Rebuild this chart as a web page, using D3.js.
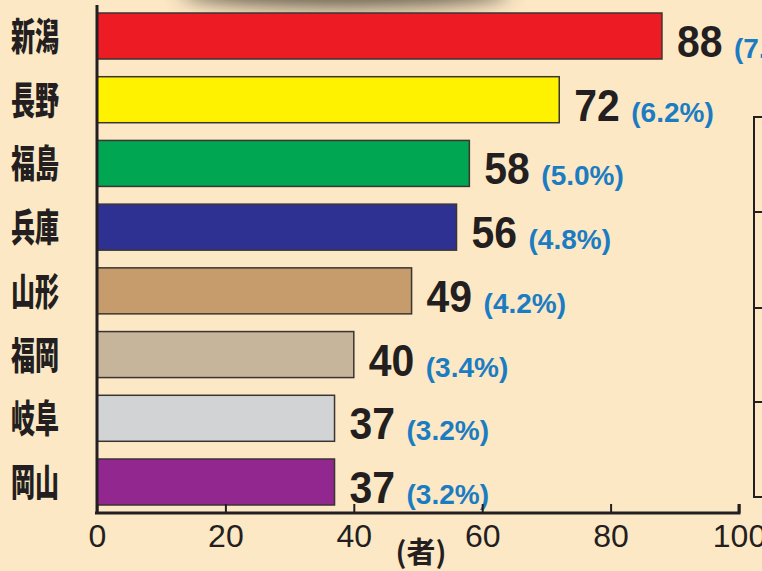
<!DOCTYPE html>
<html>
<head>
<meta charset="utf-8">
<script src="https://d3js.org/d3.v7.min.js"></script>
<style>
  body { margin: 0; background: #fde8c6; }
  svg { display: block; }
</style>
</head>
<body>
<svg width="762" height="571"></svg>
<script>
// data
let prefs = ["新潟", "長野", "福島", "兵庫", "山形", "福岡", "岐阜", "岡山"];
let counts = [88, 72, 58, 56, 49, 40, 37, 37];
let shares = ["7.6%", "6.2%", "5.0%", "4.8%", "4.2%", "3.4%", "3.2%", "3.2%"];
let barColors = ["#ed1c24", "#fff200", "#00a651", "#2e3192", "#c69c6d", "#c7b59b", "#d1d3d4", "#92278f"];
let ticks = [0, 20, 40, 60, 80, 100];
let unitLabel = "(者)";

let svg = d3.select("svg");

// background
svg.append("rect").attr("width", 762).attr("height", 571).attr("fill", "#fde8c6");

// shadow blob at the top (from the photo above)
let defs = svg.append("defs");
defs.append("filter").attr("id", "blur")
  .attr("x", "-50%").attr("y", "-100%").attr("width", "200%").attr("height", "300%")
  .append("feGaussianBlur").attr("stdDeviation", 10);
svg.append("ellipse")
  .attr("cx", 345).attr("cy", -8).attr("rx", 165).attr("ry", 15)
  .attr("fill", "#3a342a").attr("opacity", 0.8)
  .attr("filter", "url(#blur)");

let x = d3.scaleLinear().domain([0, 100]).range([97, 739]);
let y = d3.scaleBand().domain(prefs).range([13, 505]).paddingInner(0.278).paddingOuter(0);

// partial panel at the right edge
let panel = svg.append("g").attr("stroke", "#231f20").attr("stroke-width", 2).attr("fill", "none");
panel.append("rect").attr("x", 754).attr("y", 117).attr("width", 30).attr("height", 380);
[212, 308, 402].forEach(d => {
  panel.append("line").attr("x1", 754).attr("x2", 762).attr("y1", d).attr("y2", d);
});

// bars
svg.selectAll("rect.bar")
  .data(prefs)
  .join("rect")
  .attr("class", "bar")
  .attr("x", x(0))
  .attr("y", d => y(d))
  .attr("width", (d, i) => x(counts[i]) - x(0))
  .attr("height", y.bandwidth())
  .attr("fill", (d, i) => barColors[i])
  .attr("stroke", "#3a3532")
  .attr("stroke-width", 1.5);

// category labels
svg.selectAll("text.cat")
  .data(prefs)
  .join("text")
  .attr("class", "cat")
  .attr("x", 11)
  .attr("y", d => y(d) + y.bandwidth() / 2 + 14)
  .attr("textLength", 48)
  .attr("lengthAdjust", "spacingAndGlyphs")
  .style("font-family", "'Noto Sans CJK JP', sans-serif")
  .style("font-weight", "900")
  .style("font-size", "38px")
  .style("fill", "#231f20")
  .text(d => d);

// value labels
let vals = svg.selectAll("g.val")
  .data(prefs)
  .join("g")
  .attr("class", "val")
  .attr("transform", (d, i) => `translate(${x(counts[i]) + 15},${y(d) + y.bandwidth() / 2 + 21})`);

vals.append("text")
  .attr("transform", "scale(0.93,1)")
  .style("font-family", "'Liberation Sans', Arial, sans-serif")
  .style("font-weight", "bold")
  .style("font-size", "44px")
  .style("fill", "#231f20")
  .text((d, i) => counts[i]);

vals.append("text")
  .attr("x", 57)
  .attr("y", 1)
  .style("font-family", "'Liberation Sans', Arial, sans-serif")
  .style("font-weight", "bold")
  .style("font-size", "28px")
  .style("fill", "#1b7cc2")
  .text((d, i) => "(" + shares[i] + ")");

// axes
svg.append("line")
  .attr("x1", x(0)).attr("x2", x(0)).attr("y1", 5).attr("y2", 514)
  .attr("stroke", "#231f20").attr("stroke-width", 3);

let xAxis = d3.axisBottom(x).tickValues(ticks).tickSize(-9).tickPadding(11).tickFormat(d3.format("d"));
let ax = svg.append("g").attr("transform", "translate(0,513)").call(xAxis);
ax.select(".domain").attr("stroke", "#231f20").attr("stroke-width", 3).attr("d", `M${x(0) - 2},0H${x(100)}V-9`);
ax.selectAll(".tick line").attr("stroke", "#231f20").attr("stroke-width", 2);
ax.selectAll(".tick text")
  .attr("dy", "0.72em")
  .style("font-family", "'Liberation Sans', Arial, sans-serif")
  .style("font-size", "32px")
  .style("fill", "#231f20");

svg.append("text")
  .attr("x", 421).attr("y", 563)
  .attr("text-anchor", "middle")
  .style("font-family", "'Noto Sans CJK JP', sans-serif")
  .style("font-weight", "bold")
  .style("font-size", "29px")
  .style("fill", "#231f20")
  .text(unitLabel);
</script>
</body>
</html>
